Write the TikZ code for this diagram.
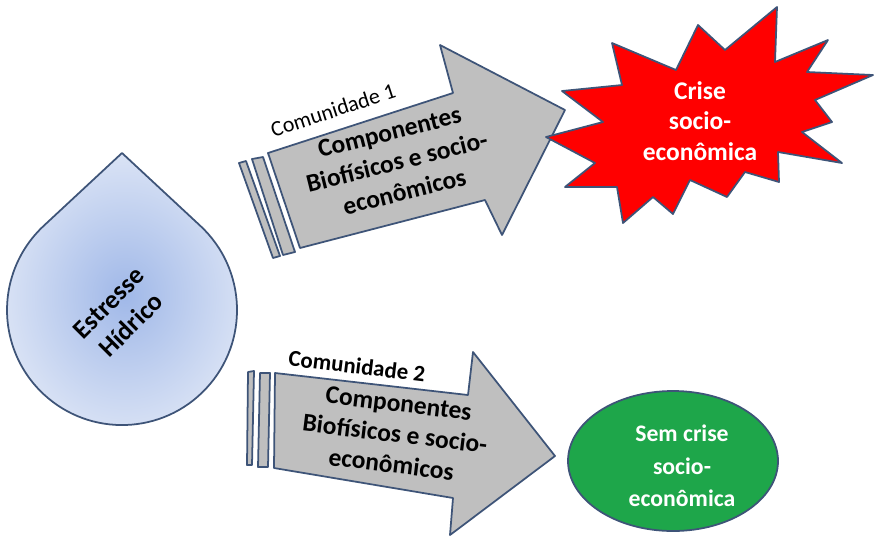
\documentclass[tikz,border=0pt]{standalone}
\usepackage{fontspec}
\setmainfont{Carlito}
\definecolor{edge}{RGB}{62,84,120}
\definecolor{bodygray}{RGB}{191,191,191}
\definecolor{crisisred}{RGB}{255,0,0}
\definecolor{calmgreen}{RGB}{30,166,74}
\definecolor{dropin}{RGB}{160,184,232}
\definecolor{dropout}{RGB}{218,227,245}
\tikzset{
  outline/.style = {draw=edge, line width=1pt, line join=round},
  arrowbody/.style = {outline, fill=bodygray},
  bodytext/.style = {font=\bfseries\fontsize{14.5}{17.5}\selectfont, align=center},
  tagtext/.style = {font=\fontsize{12.5}{15}\selectfont}
}

\begin{document}
\begin{tikzpicture}[x=0.02cm, y=-0.02cm]
  \useasboundingbox (0,0) rectangle (875,539);
  \shadedraw[outline, inner color=dropin, outer color=dropout] (122,153) -- (200.3,225.8) arc[start angle=-47.1, end angle=227.1, radius=115] -- cycle;
  \draw[arrowbody] (239,163) -- (246,161) -- (280,256) -- (273,258) -- cycle;
  \draw[arrowbody] (252,159) -- (263,157) -- (295,252) -- (283,255) -- cycle;
  \draw[arrowbody] (268,153) -- (453,93) -- (440,45) -- (565,110) -- (502,235) -- (485,200) -- (300,248) -- cycle;
  \draw[arrowbody] (248,372) -- (254,371) -- (252,465) -- (247,465) -- cycle;
  \draw[arrowbody] (260,373) -- (270,373) -- (268,467) -- (258,467) -- cycle;
  \draw[arrowbody] (275,373) -- (468,395) -- (473,352) -- (555,456) -- (450,535) -- (453,498) -- (274,468) -- cycle;
  \draw[outline, fill=crisisred] (546,137) -- (603,122) -- (562,91) -- (622,85) -- (612,43) -- (676,70) -- (698,25) -- (725,50) -- (777,7) -- (775,62) -- (828,40) -- (807,72) -- (873,75) -- (815,100) -- (832,122) -- (802,132) -- (842,163) -- (778,152) -- (779,182) -- (745,172) -- (727,197) -- (690,180) -- (673,214) -- (653,197) -- (623,223) -- (617,187) -- (565,187) -- (595,163) -- cycle;
  \draw[outline, fill=calmgreen] (673,461) ellipse [x radius=105, y radius=70];

  \node[bodytext, font=\bfseries\fontsize{15}{18}\selectfont, rotate=45] (stress) at (120,314) {Estresse\\Hídrico};
  \node[tagtext, rotate=18] (community one) at (333,110) {Comunidade 1};
  \node[bodytext, rotate=14] (parts one) at (397,162) {Componentes\\Biofísicos e socio-\\econômicos};
  \node[tagtext, font=\bfseries\fontsize{13}{15}\selectfont, rotate=-7] (community two) at (357,366) {Comunidade 2};
  \node[bodytext, rotate=-7] (parts two) at (395,434) {Componentes\\Biofísicos e socio-\\econômicos};
  \node[bodytext, text=white] (crisis) at (700,121) {Crise\\socio-\\econômica};
  \node[bodytext, text=white, font=\bfseries\fontsize{13.5}{18.5}\selectfont] (no crisis) at (682,466) {Sem crise\\socio-\\econômica};
\end{tikzpicture}
\end{document}
